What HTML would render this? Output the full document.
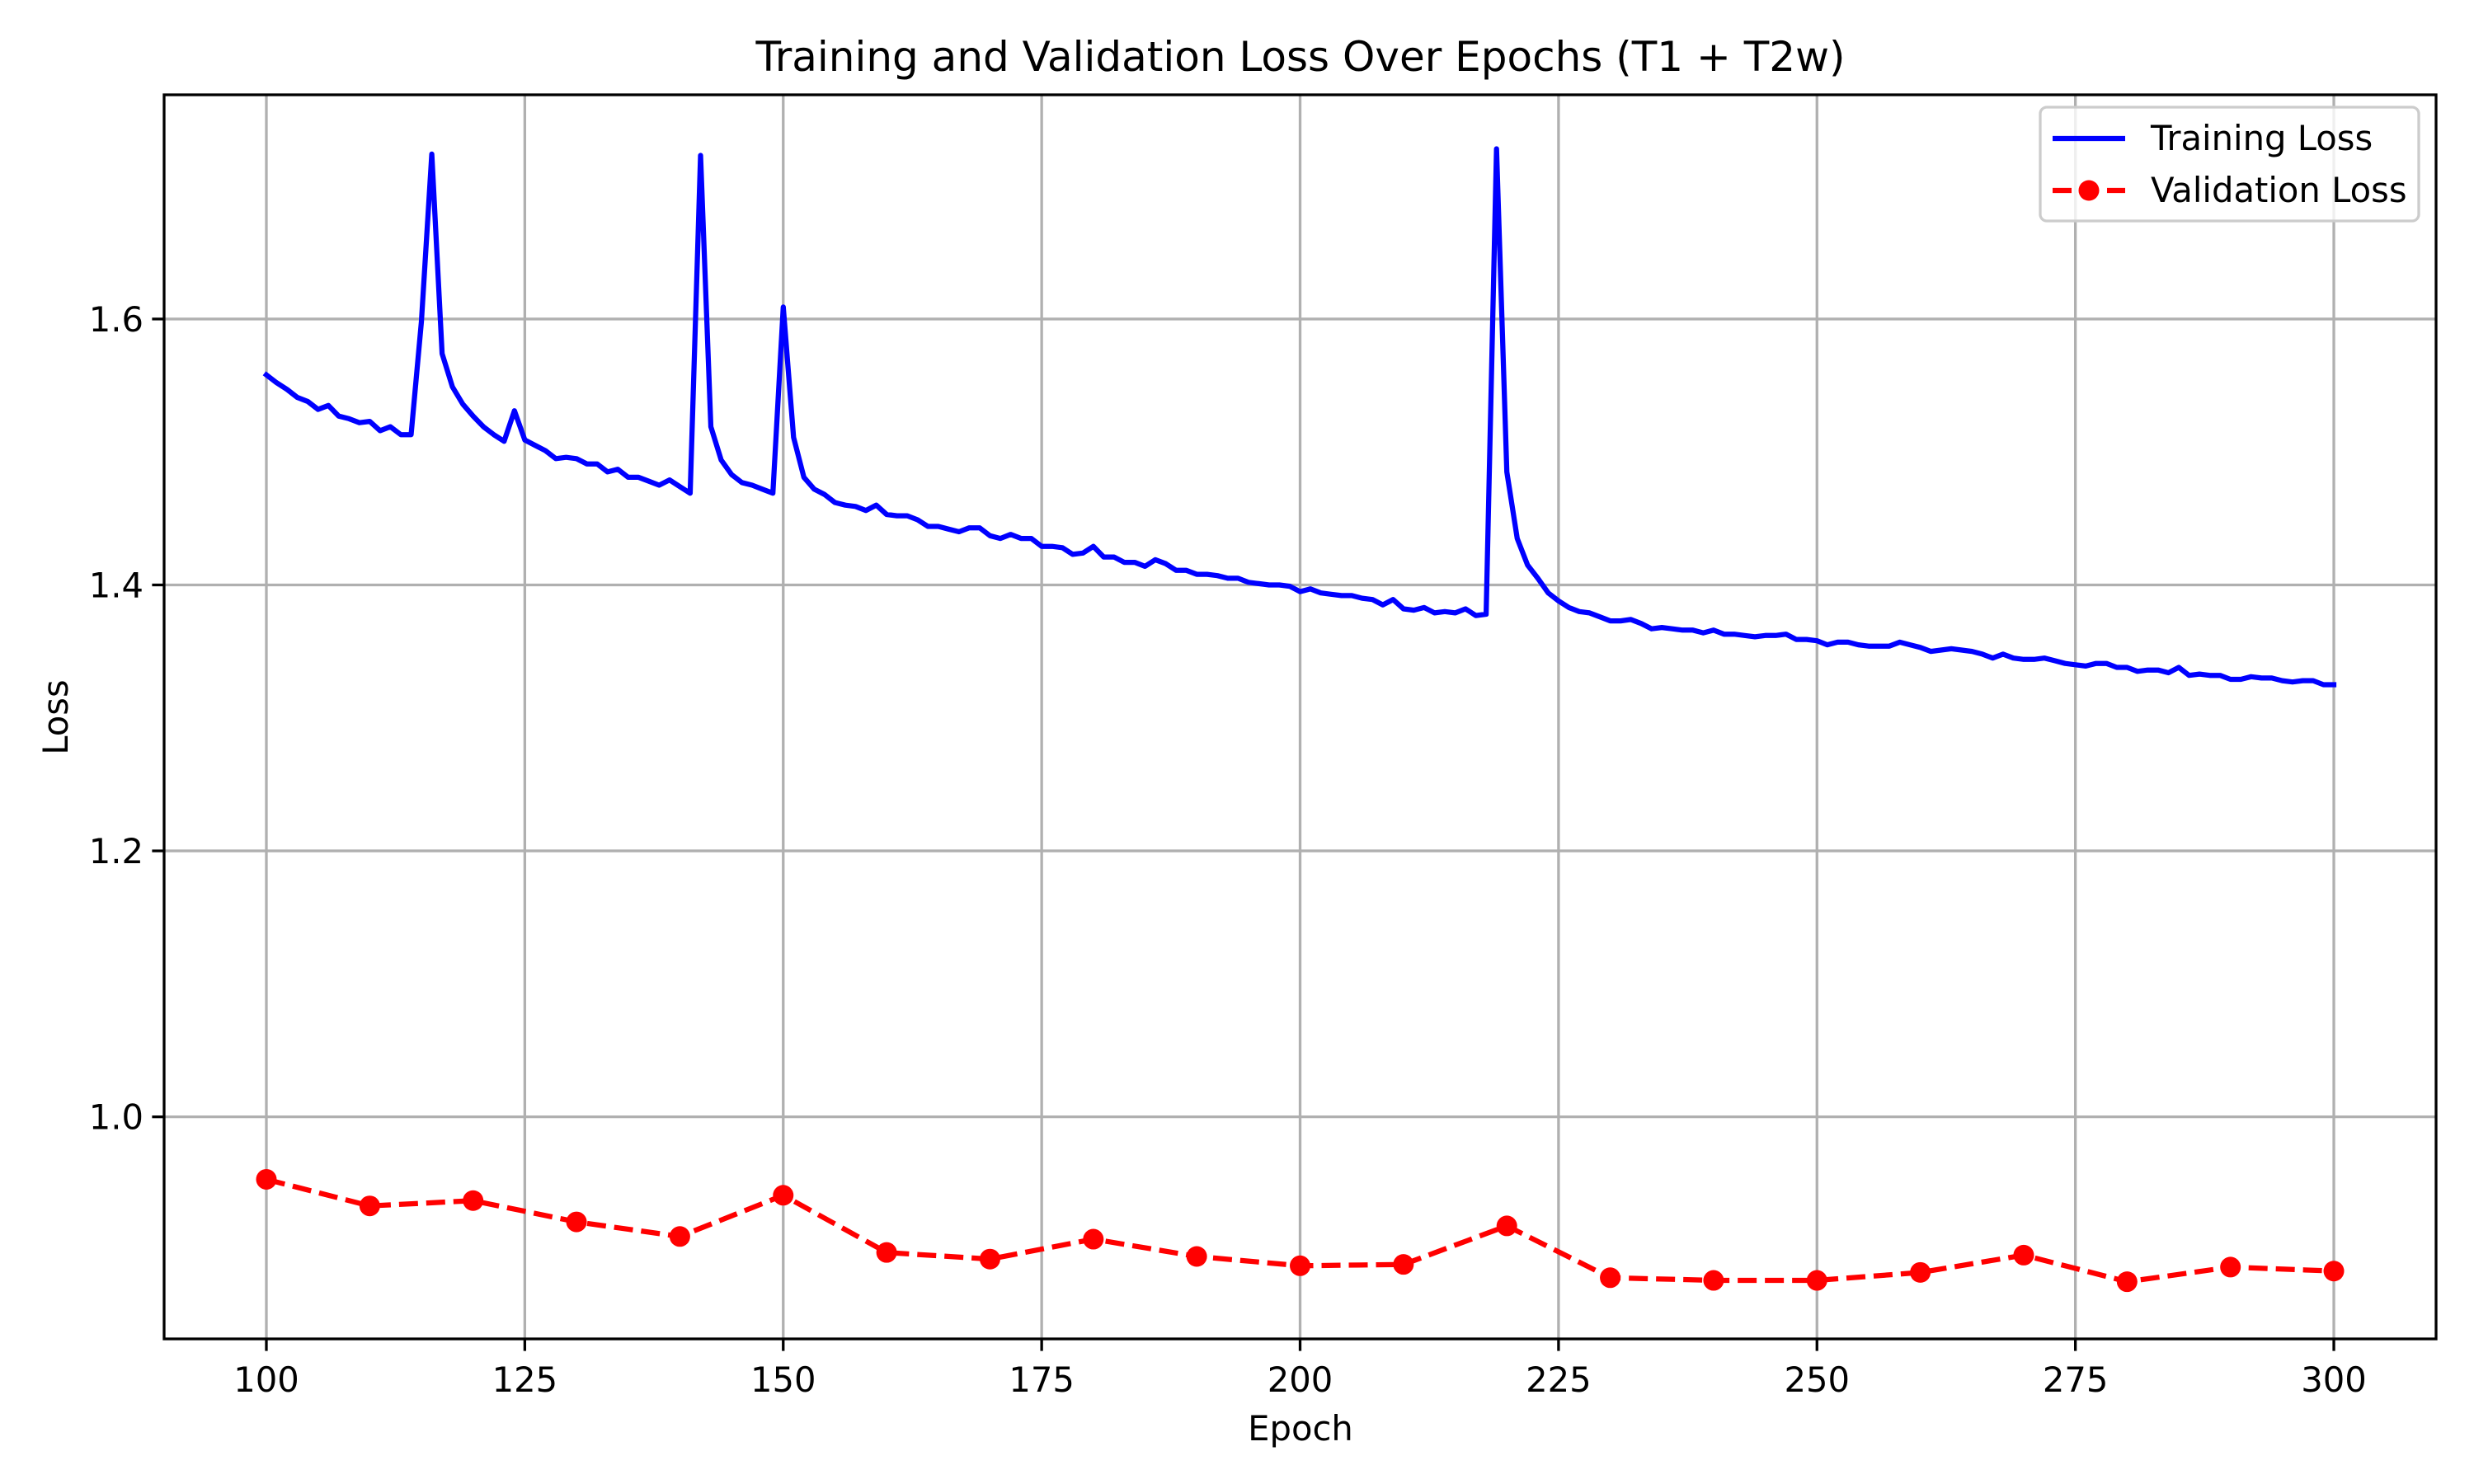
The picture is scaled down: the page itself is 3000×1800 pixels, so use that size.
<!DOCTYPE html>
<html><head><meta charset="utf-8"><style>
html,body{margin:0;padding:0;background:#fff;}
svg{display:block;font-family:"DejaVu Sans","Liberation Sans",sans-serif;}
</style></head><body>
<svg id="chart" width="3000" height="1800" viewBox="0 0 3000 1800" xmlns="http://www.w3.org/2000/svg">
<rect width="3000" height="1800" fill="#fff"/>
<text x="1577" y="86" font-size="50" text-anchor="middle" fill="#000">Training and Validation Loss Over Epochs (T1 + T2w)</text>
<text x="1577" y="1747" font-size="41.7" text-anchor="middle" fill="#000">Epoch</text>
<text x="0" y="0" font-size="41.7" text-anchor="middle" fill="#000" transform="translate(82,870) rotate(-90)">Loss</text>
<g id="grid"></g>
<g id="ticks"></g>
<g id="series"></g>
<rect x="199" y="115" width="2755" height="1509" fill="none" stroke="#000" stroke-width="3.3"/>
<g>
<rect x="2474" y="130" width="459" height="138" rx="8" fill="#fff" fill-opacity="0.8" stroke="#ccc" stroke-width="3.3"/>
<line x1="2489" y1="168" x2="2577" y2="168" stroke="#0000ff" stroke-width="6.25"/>
<text x="2608" y="182" font-size="41.7" fill="#000">Training Loss</text>
<line x1="2489" y1="231" x2="2577" y2="231" stroke="#ff0000" stroke-width="6.25" stroke-dasharray="23,10"/>
<circle cx="2533" cy="231" r="12.5" fill="#ff0000"/>
<text x="2608" y="245" font-size="41.7" fill="#000">Validation Loss</text>
</g>
</svg>
<script>
const trainStart = 100;
const trainLoss = [1.558,1.552,1.547,1.541,1.538,1.532,1.535,1.527,1.525,1.522,1.523,1.516,1.519,1.513,1.513,1.598,1.724,1.574,1.549,1.536,
1.527,1.519,1.513,1.508,1.531,1.509,1.505,1.501,1.495,1.496,1.495,1.491,1.491,1.485,1.487,1.481,1.481,1.478,1.475,1.479,
1.474,1.469,1.723,1.519,1.494,1.483,1.477,1.475,1.472,1.469,1.609,1.511,1.481,1.472,1.468,1.462,1.460,1.459,1.456,1.460,
1.453,1.452,1.452,1.449,1.444,1.444,1.442,1.440,1.443,1.443,1.437,1.435,1.438,1.435,1.435,1.429,1.429,1.428,1.423,1.424,
1.429,1.421,1.421,1.417,1.417,1.414,1.419,1.416,1.411,1.411,1.408,1.408,1.407,1.405,1.405,1.402,1.401,1.400,1.400,1.399,
1.395,1.397,1.394,1.393,1.392,1.392,1.390,1.389,1.385,1.389,1.382,1.381,1.383,1.379,1.380,1.379,1.382,1.377,1.378,1.728,
1.485,1.435,1.415,1.405,1.394,1.388,1.383,1.380,1.379,1.376,1.373,1.373,1.374,1.371,1.367,1.368,1.367,1.366,1.366,1.364,
1.366,1.363,1.363,1.362,1.361,1.362,1.362,1.363,1.359,1.359,1.358,1.355,1.357,1.357,1.355,1.354,1.354,1.354,1.357,1.355,
1.353,1.350,1.351,1.352,1.351,1.350,1.348,1.345,1.348,1.345,1.344,1.344,1.345,1.343,1.341,1.340,1.339,1.341,1.341,1.338,
1.338,1.335,1.336,1.336,1.334,1.338,1.332,1.333,1.332,1.332,1.329,1.329,1.331,1.330,1.330,1.328,1.327,1.328,1.328,1.325,1.325];
const valEpochs = [100,110,120,130,140,150,160,170,180,190,200,210,220,230,240,250,260,270,280,290,300];
const valLoss = [0.953,0.933,0.937,0.921,0.910,0.941,0.898,0.893,0.908,0.895,0.888,0.889,0.918,0.879,0.877,0.877,0.883,0.896,0.876,0.887,0.884];
const xTicks = [100,125,150,175,200,225,250,275,300];
const yTicks = [1.0,1.2,1.4,1.6];
const yTickLabels = ["1.0","1.2","1.4","1.6"];

const NS="http://www.w3.org/2000/svg";
const L=199,R=2954,T=115,B=1624;
const xMin=90.108,xMax=309.89, yMin=0.833,yMax=1.7686;
function xs(v){return L+(v-xMin)/(xMax-xMin)*(R-L);}
function ys(v){return B-(v-yMin)/(yMax-yMin)*(B-T);}
function mk(tag,attrs,parent){const e=document.createElementNS(NS,tag);for(const k in attrs)e.setAttribute(k,attrs[k]);parent.appendChild(e);return e;}
const grid=document.getElementById('grid'),ticks=document.getElementById('ticks'),series=document.getElementById('series');
xTicks.forEach(t=>{
  const x=xs(t);
  const g=mk('line',{x1:x,y1:T,x2:x,y2:B,stroke:'#b0b0b0','stroke-width':3.3},grid);
  
  
  const tk=mk('line',{x1:x,y1:B,x2:x,y2:B+14.6,stroke:'#000','stroke-width':3.3},ticks);
  
  
  const tx=mk('text',{x:x,y:B+64,'font-size':41.7,'text-anchor':'middle',fill:'#000'},ticks);
  tx.textContent=String(t);
  
  
});
yTicks.forEach((t,i)=>{
  const y=ys(t);
  const g=mk('line',{x1:L,y1:y,x2:R,y2:y,stroke:'#b0b0b0','stroke-width':3.3},grid);
  
  
  const tk=mk('line',{x1:L-14.6,y1:y,x2:L,y2:y,stroke:'#000','stroke-width':3.3},ticks);
  
  
  const tx=mk('text',{x:L-25,y:y+15,'font-size':41.7,'text-anchor':'end',fill:'#000'},ticks);
  tx.textContent=yTickLabels[i];
  
  
});
const tp=trainLoss.map((v,i)=>xs(trainStart+i).toFixed(1)+','+ys(v).toFixed(1)).join(' ');
const tl=mk('polyline',{points:tp,fill:'none',stroke:'#0000ff','stroke-width':6.25,'stroke-linejoin':'round','stroke-linecap':'square'},series);


const vp=valLoss.map((v,i)=>xs(valEpochs[i]).toFixed(1)+','+ys(v).toFixed(1)).join(' ');
const vl=mk('polyline',{points:vp,fill:'none',stroke:'#ff0000','stroke-width':6.25,'stroke-dasharray':'23,10'},series);


valLoss.forEach((v,i)=>{
  const c=mk('circle',{cx:xs(valEpochs[i]),cy:ys(v),r:12.5,fill:'#ff0000'},series);
  
  
});
</script>
</body></html>
